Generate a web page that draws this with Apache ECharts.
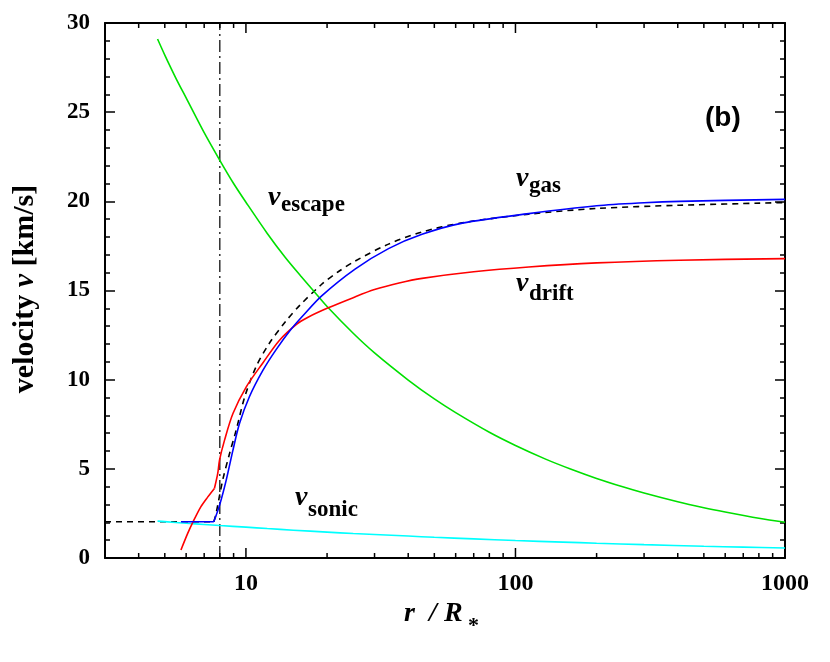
<!DOCTYPE html>
<html><head><meta charset="utf-8">
<script src="https://cdn.jsdelivr.net/npm/echarts@6/dist/echarts.min.js"></script>
<style>html,body{margin:0;padding:0;background:#fff}#c{width:830px;height:662px}</style>
</head><body><div id="c"></div>
<script>
// ---- data ----
const escapeR = [4.7, 5, 5.5, 6, 7, 8, 9, 10, 12, 14, 16, 18, 20, 25, 30, 40, 50, 60, 80, 100, 130, 160, 200, 250, 300, 400, 500, 600, 800, 1000];
const escapeV = [29.1, 28.2, 26.9, 25.8, 23.85, 22.3, 21.0, 19.95, 18.2, 16.85, 15.8, 14.9, 14.1, 12.6, 11.5, 9.98, 8.92, 8.15, 7.05, 6.31, 5.53, 4.99, 4.46, 3.99, 3.64, 3.15, 2.82, 2.58, 2.23, 2.0];

const sonicR = [4.7, 5, 6, 7, 8, 10, 12, 15, 20, 25, 30, 40, 50, 70, 100, 150, 200, 300, 500, 700, 1000];
const sonicV = [2.07, 2.04, 1.95, 1.88, 1.82, 1.73, 1.65, 1.56, 1.45, 1.37, 1.32, 1.23, 1.16, 1.07, 0.98, 0.89, 0.83, 0.75, 0.66, 0.61, 0.56];

// gas velocity: flat inner part, then accelerating part
const gasFlatR = [5.74, 7.6];
const gasFlatV = [2.03, 2.03];
const gasR = [7.6, 7.98, 8.45, 8.95, 9.47, 10.3, 11.57, 12.96, 14.75, 16.3, 19.1, 25.4, 33.8, 45, 63.5, 112, 200, 300, 406, 1000];
const gasV = [2.03, 2.95, 4.37, 6.05, 7.55, 9.04, 10.53, 11.7, 12.85, 13.6, 14.7, 16.2, 17.35, 18.15, 18.78, 19.31, 19.75, 19.92, 20.0, 20.11];

// drift velocity: inner part up to the kink, then outer part
const driftInR = [5.74, 6.08, 6.35, 6.8, 7.2, 7.64];
const driftInV = [0.45, 1.38, 2.0, 2.87, 3.4, 3.9];
const driftR = [7.64, 7.86, 7.98, 8.33, 8.95, 10.03, 11.57, 13.3, 15.4, 17, 20, 25, 30, 37, 45, 70, 112, 200, 406, 1000];
const driftV = [3.9, 4.74, 5.49, 6.61, 8.1, 9.6, 10.95, 12.2, 13.1, 13.5, 14.0, 14.6, 15.05, 15.42, 15.68, 16.05, 16.32, 16.55, 16.7, 16.79];

// analytic model (dashed)
const modelFlatR = [3, 7.6];
const modelFlatV = [2.03, 2.03];
const modelR = [7.6, 7.75, 8.2, 8.7, 9.2, 9.9, 10.9, 12.2, 14.1, 15.8, 19.1, 22, 25.4, 33.8, 45, 63.5, 112, 200, 406, 1000];
const modelV = [2.03, 2.5, 4.37, 5.87, 7.17, 9.04, 10.72, 12.03, 13.3, 14.15, 15.35, 16.05, 16.65, 17.6, 18.28, 18.8, 19.28, 19.6, 19.78, 19.93];

const sonicPointR = [8, 8];
const sonicPointV = [0, 30];

const xLabelValues = [10, 100, 1000];
const xMinorTicks = [4, 5, 6, 7, 8, 9, 20, 30, 40, 50, 60, 70, 80, 90, 200, 300, 400, 500, 600, 700, 800, 900];
const xMajorTicks = [10, 100];

function pairs(r, v) { return r.map((x, i) => [x, v[i]]); }

const serif = '"Liberation Serif","Times New Roman",serif';
const tickData = xMinorTicks.map(v => [v, 0]).concat(xMajorTicks.map(v => [v, 1]));

const chart = echarts.init(document.getElementById('c'), null, {renderer: 'canvas'});

function lineSeries(name, r, v, color, extra) {
  return Object.assign({
    name: name, type: 'line', data: pairs(r, v), showSymbol: false, symbol: 'none',
    smooth: 0.3,
    lineStyle: {color: color, width: 1.6}, silent: true, animation: false
  }, extra || {});
}

function yAxisCfg(pos, showLabel) {
  return {
    type: 'value', min: 0, max: 30, interval: 5, position: pos,
    axisLine: {show: true, lineStyle: {color: '#000', width: 2}},
    axisTick: {show: true, inside: true, length: 10, lineStyle: {color: '#000', width: 1.5}},
    minorTick: {show: true, splitNumber: 5, length: 5, lineStyle: {color: '#000', width: 1.5}},
    splitLine: {show: false},
    axisLabel: {show: showLabel, margin: 15, fontFamily: serif, fontWeight: 'bold', fontSize: 23, color: '#000'}
  };
}

function txt(x, y, s, size, italic, family, align) {
  return {
    type: 'text', x: x, y: y, z: 100,
    style: {text: s, fontFamily: family || serif, fontWeight: 'bold', fontStyle: italic ? 'italic' : 'normal',
      fontSize: size, fill: '#000', align: align || 'left', verticalAlign: 'middle'}
  };
}

function vLabel(x, yv, sub, ysub) {
  return [txt(x, yv, 'v', 28, true), txt(x + 13, ysub, sub, 23, false)];
}

const dashedStyle = {color: '#000', width: 1.6, type: [6, 5]};

const option = {
  animation: false,
  grid: {left: 105, right: 45, top: 23, bottom: 104, containLabel: false, outerBoundsMode: 'none'},
  xAxis: [{
    type: 'log', logBase: 10, min: 3, max: 1000, position: 'bottom',
    axisLine: {show: true, onZero: false, lineStyle: {color: '#000', width: 2}},
    axisTick: {show: false}, minorTick: {show: false}, splitLine: {show: false},
    axisLabel: {show: true, margin: 14, fontFamily: serif, fontWeight: 'bold', fontSize: 24, color: '#000',
      formatter: function (v) { const k = Math.round(v); return xLabelValues.indexOf(k) >= 0 && Math.abs(v - k) < 1e-3 * k ? String(k) : ''; }}
  }, {
    type: 'log', logBase: 10, min: 3, max: 1000, position: 'top',
    axisLine: {show: true, onZero: false, lineStyle: {color: '#000', width: 2}},
    axisTick: {show: false}, minorTick: {show: false}, splitLine: {show: false}, axisLabel: {show: false}
  }],
  yAxis: [yAxisCfg('left', true), yAxisCfg('right', false)],
  series: [
    lineSeries('model flat', modelFlatR, modelFlatV, '#000', {smooth: false, lineStyle: dashedStyle, z: 2}),
    lineSeries('model', modelR, modelV, '#000', {lineStyle: dashedStyle, z: 2}),
    lineSeries('sonic point', sonicPointR, sonicPointV, '#000', {smooth: false, lineStyle: {color: '#111', width: 1.3, type: [12, 4, 2, 4]}, z: 2}),
    lineSeries('v_sonic', sonicR, sonicV, '#00ffff', {z: 3}),
    lineSeries('v_escape', escapeR, escapeV, '#00e000', {z: 3}),
    lineSeries('v_drift inner', driftInR, driftInV, '#ff0000', {z: 4}),
    lineSeries('v_drift', driftR, driftV, '#ff0000', {z: 4}),
    lineSeries('v_gas flat', gasFlatR, gasFlatV, '#0000ff', {smooth: false, z: 5}),
    lineSeries('v_gas', gasR, gasV, '#0000ff', {z: 5}),
    {
      type: 'custom', data: tickData, silent: true, z: 6,
      renderItem: function (params, api) {
        const v = api.value(0), major = api.value(1);
        const len = major ? 10 : 5;
        const pb = api.coord([v, 0]), pt = api.coord([v, 30]);
        const st = {stroke: '#000', lineWidth: 1.5};
        return {type: 'group', children: [
          {type: 'line', shape: {x1: pb[0], y1: pb[1], x2: pb[0], y2: pb[1] - len}, style: st},
          {type: 'line', shape: {x1: pt[0], y1: pt[1], x2: pt[0], y2: pt[1] + len}, style: st}
        ]};
      }
    }
  ],
  graphic: [].concat(
    vLabel(268, 197.5, 'escape', 205.4),
    vLabel(516, 179, 'gas', 185.7),
    vLabel(516, 284, 'drift', 294),
    vLabel(295, 497.5, 'sonic', 509.7),
    [
      txt(705, 118, '(b)', 28, false, '"Liberation Sans",Arial,sans-serif'),
      txt(404, 614, 'r', 28, true),
      txt(429, 614, '/', 28, true),
      txt(444, 614, 'R', 28, true),
      txt(468, 626, '*', 22, false),
      {
        type: 'text', x: 25, y: 289, rotation: Math.PI / 2, z: 100,
        style: {
          text: '{a|velocity }{b|v}{a| [km/s]}',
          align: 'center', verticalAlign: 'middle',
          rich: {
            a: {fontFamily: serif, fontWeight: 'bold', fontSize: 30, fill: '#000'},
            b: {fontFamily: serif, fontWeight: 'bold', fontStyle: 'italic', fontSize: 30, fill: '#000'}
          }
        }
      }
    ]
  )
};
chart.setOption(option);
</script>
</body></html>
